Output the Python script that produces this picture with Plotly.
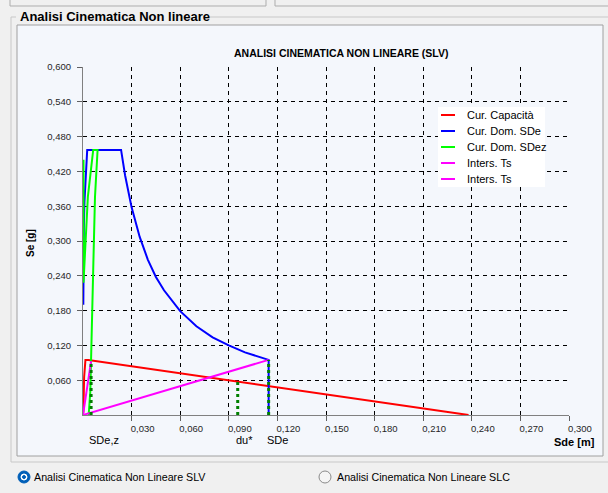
import plotly.graph_objects as go

# ---- data ----
x_ticks = [0.03, 0.06, 0.09, 0.12, 0.15, 0.18, 0.21, 0.24, 0.27, 0.30]
x_tick_labels = ['0,030', '0,060', '0,090', '0,120', '0,150', '0,180', '0,210', '0,240', '0,270', '0,300']
y_ticks = [0.06, 0.12, 0.18, 0.24, 0.30, 0.36, 0.42, 0.48, 0.54, 0.60]
y_tick_labels = ['0,060', '0,120', '0,180', '0,240', '0,300', '0,360', '0,420', '0,480', '0,540', '0,600']

# Cur. Capacità
cap_sd = [0.0002, 0.0007, 0.0015, 0.0033, 0.238]
cap_se = [0.004, 0.065, 0.095, 0.095, 0.0]

# Cur. Dom. SDe
dom_sd = [0.0002, 0.0002, 0.0003, 0.0005, 0.0009, 0.0016, 0.0026, 0.0235, 0.026, 0.030,
          0.035, 0.040, 0.045, 0.050, 0.060, 0.070, 0.080, 0.090, 0.100, 0.1146, 0.1146]
dom_se = [0.19, 0.225, 0.28, 0.323, 0.368, 0.41, 0.457, 0.457, 0.413, 0.358,
          0.307, 0.268, 0.238, 0.215, 0.179, 0.153, 0.134, 0.12, 0.108, 0.095, 0.0]

# Cur. Dom. SDez
domz_sd = [0.0003, 0.0003, 0.0030, 0.0063, 0.0090, 0.0074, 0.0064, 0.0054, 0.0045, 0.0035]
domz_se = [0.44, 0.228, 0.376, 0.457, 0.457, 0.376, 0.262, 0.118, 0.04, 0.0]

# intersections / markers on the x axis
sde_z, se_z = 0.005, 0.093
du_star, du_star_se = 0.0955, 0.0575
sde, se_e = 0.1146, 0.095

series_names = ['Cur. Capacità', 'Cur. Dom. SDe', 'Cur. Dom. SDez', 'Inters. Ts', 'Inters. Ts']
series_colors = ['#ff0000', '#0000ff', '#00ff00', '#ff00ff', '#ff00ff']
marker_labels = ['SDe,z', 'du*', 'SDe']

W, H = 608, 493
L, R, T, B = 83, 569, 67, 415   # plot area in pixels


def px(p):
    return (p - L) / (R - L)


def py(p):
    return (B - p) / (B - T)


fig = go.Figure()

fig.add_trace(go.Scatter(x=cap_sd, y=cap_se, mode='lines', name=series_names[0],
                         line=dict(color=series_colors[0], width=2)))
fig.add_trace(go.Scatter(x=dom_sd, y=dom_se, mode='lines', name=series_names[1],
                         line=dict(color=series_colors[1], width=2)))
fig.add_trace(go.Scatter(x=domz_sd, y=domz_se, mode='lines', name=series_names[2],
                         line=dict(color=series_colors[2], width=2)))
fig.add_trace(go.Scatter(x=[0, sde], y=[0, se_e], mode='lines', name=series_names[3],
                         line=dict(color=series_colors[3], width=2)))
fig.add_trace(go.Scatter(x=[0, sde_z], y=[0, se_z], mode='lines', name=series_names[4],
                         line=dict(color=series_colors[4], width=2)))

# dotted verticals
for xv, yv in [(sde_z, se_z), (du_star, du_star_se), (sde, se_e)]:
    fig.add_trace(go.Scatter(x=[xv, xv], y=[0, yv], mode='lines', showlegend=False,
                             line=dict(color='#008000', width=3, dash='dot')))

shapes = []
annotations = []

# window decoration: top tabs, group frame, chart panel
shapes += [
    dict(type='rect', xref='paper', yref='paper', x0=px(10), x1=px(266), y0=py(-5), y1=py(6),
         line=dict(color='#adadad', width=1), fillcolor='#f0f0f0', layer='below'),
    dict(type='rect', xref='paper', yref='paper', x0=px(275), x1=px(612), y0=py(-5), y1=py(6),
         line=dict(color='#adadad', width=1), fillcolor='#f0f0f0', layer='below'),
    dict(type='rect', xref='paper', yref='paper', x0=px(11), x1=px(612), y0=py(17), y1=py(462),
         line=dict(color='#c8c8c8', width=1), fillcolor='#f0f0f0', layer='below'),
    dict(type='rect', xref='paper', yref='paper', x0=px(17), x1=px(603), y0=py(25), y1=py(456),
         line=dict(color='#a0a0a0', width=1), fillcolor='#f4f7fc', layer='below'),
]
# background box under the group title to break the frame line
shapes.append(dict(type='rect', xref='paper', yref='paper', x0=px(16), x1=px(208), y0=py(10), y1=py(22),
                   line=dict(width=0), fillcolor='#f0f0f0', layer='below'))
annotations.append(dict(text='<b>Analisi Cinematica Non lineare</b>', xref='paper', yref='paper',
                        x=px(18), y=py(17), xanchor='left', yanchor='middle', showarrow=False,
                        font=dict(family='Liberation Sans', size=13, color='#000000')))

# chart title
annotations.append(dict(text='<b>ANALISI CINEMATICA NON LINEARE (SLV)</b>', xref='paper', yref='paper',
                        x=px(341), y=py(53), xanchor='center', yanchor='middle', showarrow=False,
                        font=dict(family='Liberation Sans', size=10.5, color='#000000')))

# axis titles
annotations.append(dict(text='<b>Se [g]</b>', xref='paper', yref='paper', x=px(30), y=py(243),
                        textangle=-90, xanchor='center', yanchor='middle', showarrow=False,
                        font=dict(family='Liberation Sans', size=10, color='#000000')))
annotations.append(dict(text='<b>Sde [m]</b>', xref='paper', yref='paper', x=px(597), y=py(442),
                        xanchor='right', yanchor='middle', showarrow=False,
                        font=dict(family='Liberation Sans', size=11, color='#000000')))

# labels under the x axis
for lab, xv in zip(marker_labels, [sde_z, du_star, sde]):
    annotations.append(dict(text=lab, xref='x', yref='paper', x=xv, y=py(440), xshift=-4,
                            xanchor='left', yanchor='middle', showarrow=False,
                            font=dict(family='Liberation Sans', size=11, color='#000000')))

# legend (drawn by hand to keep the short line samples)
shapes.append(dict(type='rect', xref='paper', yref='paper', x0=px(438), x1=px(545), y0=py(107), y1=py(187),
                   line=dict(width=0), fillcolor='#ffffff', layer='above'))
for i, (name, col) in enumerate(zip(series_names, series_colors)):
    yc = 115 + 16 * i
    shapes.append(dict(type='line', xref='paper', yref='paper', x0=px(441), x1=px(455), y0=py(yc), y1=py(yc),
                       line=dict(color=col, width=2), layer='above'))
    annotations.append(dict(text=name, xref='paper', yref='paper', x=px(465), y=py(yc),
                            xanchor='left', yanchor='middle', showarrow=False,
                            font=dict(family='Liberation Sans', size=11, color='#000000')))

# radio buttons
shapes += [
    dict(type='circle', xref='paper', yref='paper', x0=px(18), x1=px(30), y0=py(471), y1=py(483),
         line=dict(color='#005fb8', width=1), fillcolor='#005fb8'),
    dict(type='circle', xref='paper', yref='paper', x0=px(21), x1=px(27), y0=py(474), y1=py(480),
         line=dict(color='#ffffff', width=1), fillcolor='#ffffff'),
    dict(type='circle', xref='paper', yref='paper', x0=px(22.5), x1=px(25.5), y0=py(475.5), y1=py(478.5),
         line=dict(color='#005fb8', width=1), fillcolor='#005fb8'),
    dict(type='circle', xref='paper', yref='paper', x0=px(319), x1=px(331), y0=py(471), y1=py(483),
         line=dict(color='#8a8a8a', width=1), fillcolor='#f5f5f5'),
]
annotations.append(dict(text='Analisi Cinematica Non Lineare SLV', xref='paper', yref='paper',
                        x=px(32), y=py(477), xanchor='left', yanchor='middle', showarrow=False,
                        font=dict(family='Liberation Sans', size=10.7, color='#000000')))
annotations.append(dict(text='Analisi Cinematica Non Lineare SLC', xref='paper', yref='paper',
                        x=px(335), y=py(477), xanchor='left', yanchor='middle', showarrow=False,
                        font=dict(family='Liberation Sans', size=10.7, color='#000000')))

axis_common = dict(
    showgrid=True, gridcolor='#000000', gridwidth=1, griddash='4px,4px',
    showline=True, linecolor='#808080', linewidth=1, zeroline=False,
    ticks='outside', ticklen=5, tickcolor='#606060', tickfont=dict(size=9.5, color='#262626'),
    fixedrange=True,
)

fig.update_layout(
    width=W, height=H,
    margin=dict(l=L, r=W - R, t=T, b=H - B, autoexpand=False),
    paper_bgcolor='#f0f0f0',
    plot_bgcolor='#f4f7fc',
    font=dict(family='Liberation Sans', size=9, color='#333333'),
    showlegend=False,
    shapes=shapes,
    annotations=annotations,
    xaxis=dict(range=[0, 0.3], tickmode='array', tickvals=x_ticks, ticktext=x_tick_labels,
               ticklabelshift=11, **axis_common),
    yaxis=dict(range=[0, 0.6], tickmode='array', tickvals=y_ticks, ticktext=y_tick_labels,
               ticklabelstandoff=4, **axis_common),
)

# drop the default 8px page margin so the figure fills the window
fig.write_html("out.html", config={'displayModeBar': False},
               post_script="document.body.style.margin='0';document.body.style.background='#f0f0f0';")
